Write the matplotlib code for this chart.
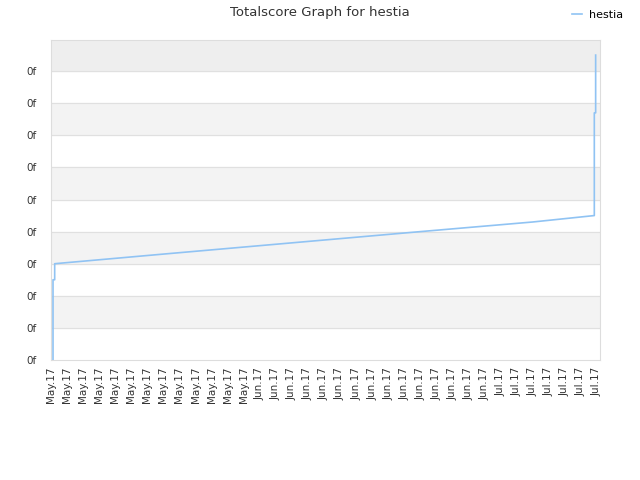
import matplotlib
matplotlib.use("Agg")
import matplotlib.pyplot as plt
import matplotlib.dates as mdates
import pandas as pd

# score history (y in axis units; labels all read "0f")
times = ["2017-05-06 06:00", "2017-05-06 06:00", "2017-05-06 11:00",
         "2017-05-06 11:00", "2017-05-20 00:00", "2017-06-05 00:00",
         "2017-06-21 00:00", "2017-07-05 00:00", "2017-07-12 16:00",
         "2017-07-12 16:00", "2017-07-12 20:00", "2017-07-12 20:00"]
scores = [0.0, 2.5, 2.5, 3.0, 3.3, 3.65, 4.0, 4.3, 4.5, 7.7, 7.7, 9.5]
tick_dates = pd.date_range("2017-05-06", "2017-07-13", freq="2D")
ytick_vals = list(range(10))
ytick_labels = ["0f"] * 10

x = pd.to_datetime(times)

fig = plt.figure(figsize=(6.4, 4.8), dpi=100)
ax = fig.add_axes([51 / 640, 120 / 480, 549 / 640, 320 / 480])

# alternating bands
for i in range(1, 9, 2):
    ax.axhspan(i, i + 1, color="#f3f3f3", zorder=0)
ax.axhspan(9, 10, color="#eeeeee", zorder=0)
for v in ytick_vals[1:]:
    ax.axhline(v, color="#e0e0e0", lw=0.8, zorder=1)

ax.plot(x, scores, color="#90c3f3", lw=1.2, label="hestia", zorder=3)

ax.set_xlim(pd.Timestamp("2017-05-06"), pd.Timestamp("2017-07-13 09:00"))
ax.set_ylim(0, 9.97)
ax.set_xticks(tick_dates)
ax.xaxis.set_major_formatter(mdates.DateFormatter("%b.%y"))
ax.set_yticks(ytick_vals)
ax.set_yticklabels(ytick_labels)
ax.tick_params(length=0, labelsize=7.5, colors="#333333")
ax.tick_params(axis="y", pad=10)
ax.tick_params(axis="x", pad=5)
plt.setp(ax.get_xticklabels(), rotation=90)
for s in ax.spines.values():
    s.set_color("#dddddd")

fig.suptitle("Totalscore Graph for hestia", y=0.988, fontsize=9.5, color="#333333")
fig.legend(loc="upper right", bbox_to_anchor=(0.99, 1.0), frameon=False,
           fontsize=8, handlelength=0.9, handletextpad=0.7)

fig.savefig("out.png", dpi=100)
